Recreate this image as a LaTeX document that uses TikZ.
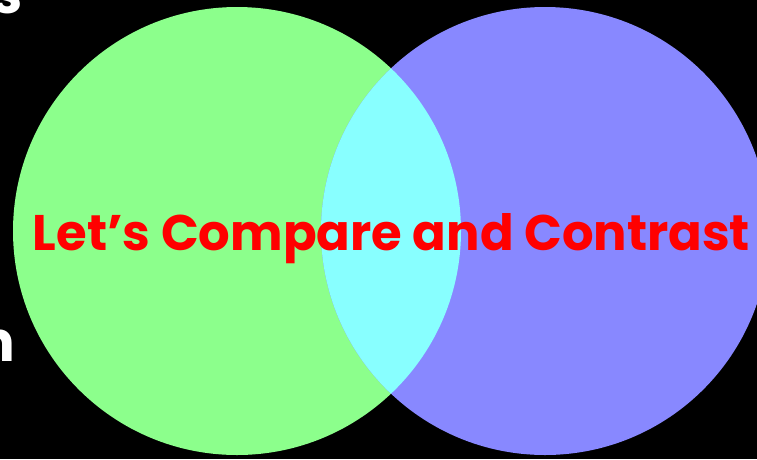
\documentclass[tikz,border=0pt]{standalone}
\usepackage{fontspec}
\setmainfont{Poppins}[BoldFont={* Bold}]
\definecolor{vgreen}{RGB}{140,255,140}
\definecolor{vblue}{RGB}{136,136,255}
\definecolor{vcyan}{RGB}{136,255,255}
\definecolor{vred}{RGB}{255,0,0}
\tikzset{
  behindtext/.style={text=white, font=\bfseries\fontsize{56}{60}\selectfont, inner sep=0pt},
  titletext/.style={text=vred, font=\bfseries\fontsize{53}{58}\selectfont, inner sep=0pt},
  setcircle/.style={circle, minimum size=448pt, inner sep=0pt, draw=none}
}
\begin{document}
\begin{tikzpicture}[x=1pt,y=-1pt]
\useasboundingbox (0,0) rectangle (757,459);
\clip (0,0) rectangle (757,459);
\fill[black] (0,0) rectangle (757,459);
\node[behindtext, anchor=base east] (s) at (23,13) {s};
\node[behindtext, anchor=base east] (n) at (15,361) {n};
\node[setcircle, fill=vgreen] (left) at (237,231) {};
\node[setcircle, fill=vblue] (right) at (545,231) {};
\begin{scope}
  \clip (237,231) circle (224);
  \fill[vcyan] (545,231) circle (224);
\end{scope}
\node[titletext, anchor=base] (title) at (391.5,250) {\resizebox{717pt}{37pt}{\raisebox{0pt}{Let’s Compare and Contrast}}};
\end{tikzpicture}
\end{document}
